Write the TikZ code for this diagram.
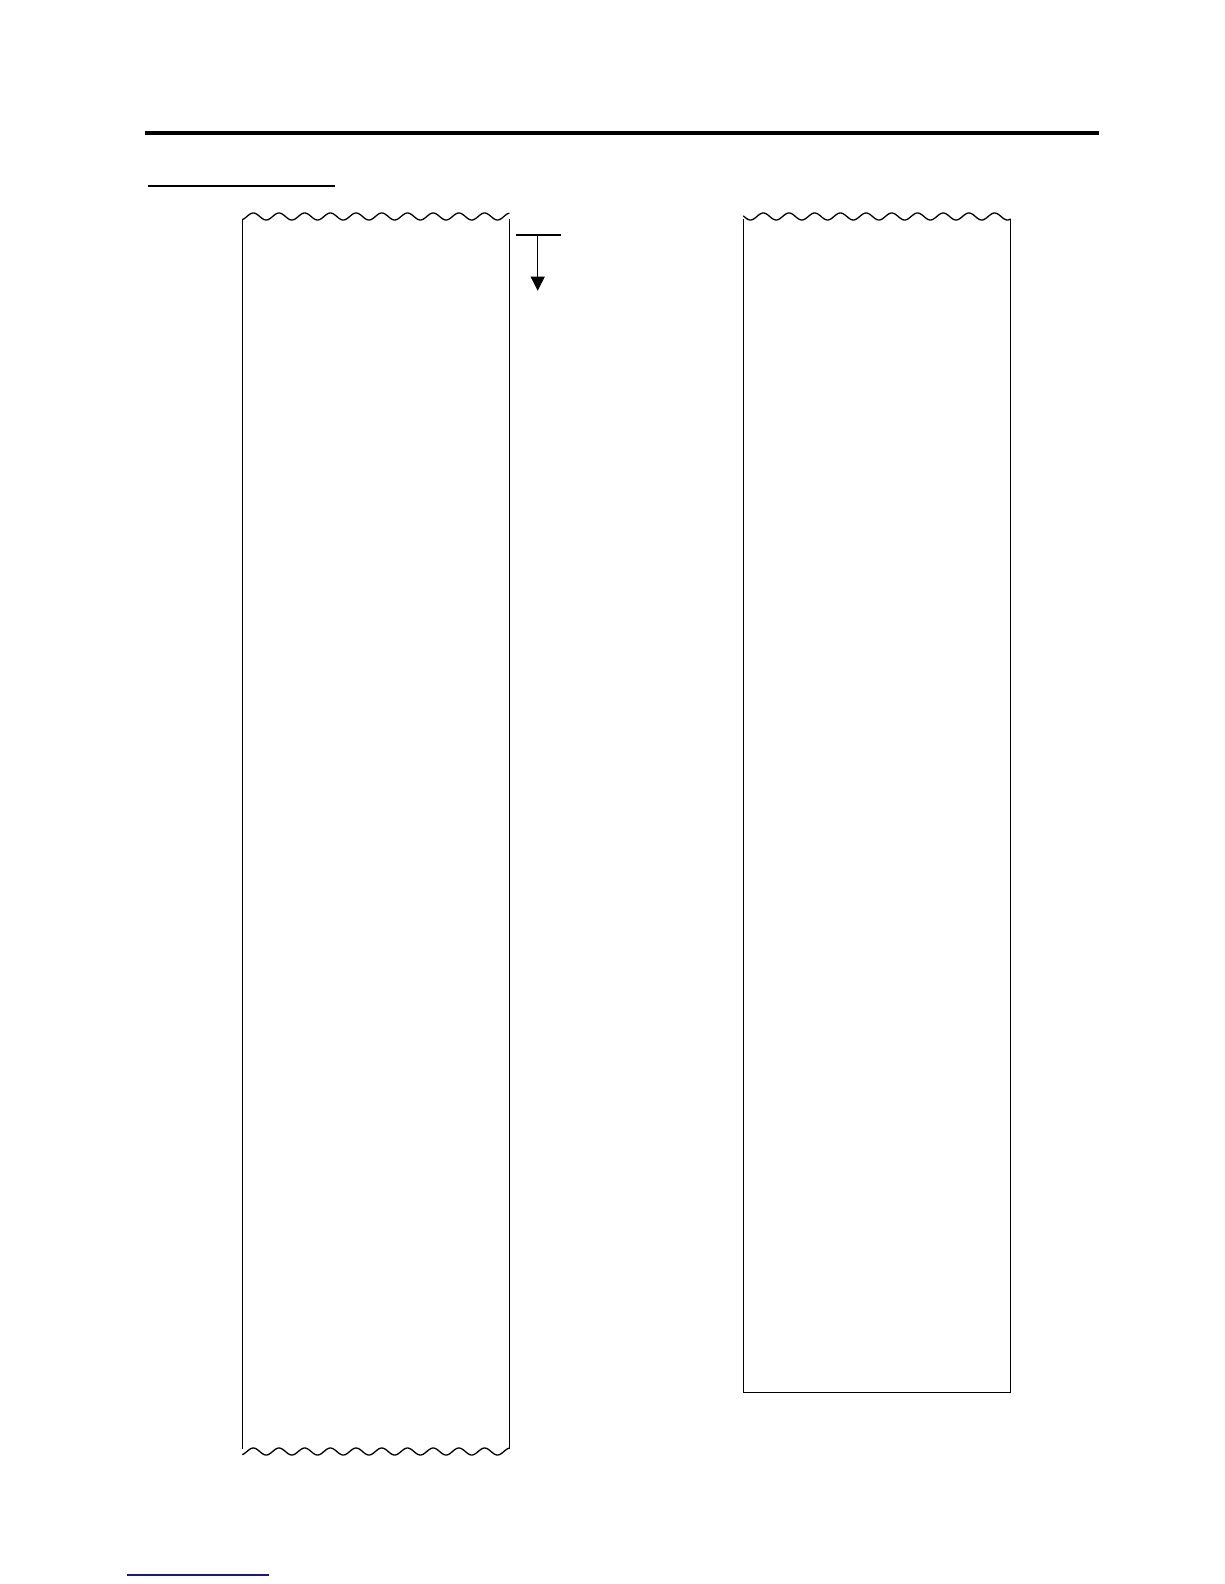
\documentclass[tikz,border=0pt]{standalone}
\usetikzlibrary{arrows.meta}
\definecolor{navyline}{RGB}{24,24,140}
\tikzset{
  stripline/.style={line width=1.3pt, line cap=butt},
  waveline/.style={line width=1.3pt},
  rule/.style={line width=4pt},
  headrule/.style={line width=2pt},
}
\begin{document}
\begin{tikzpicture}[x=1pt,y=-1pt]
\useasboundingbox[fill=white] (0,0) rectangle (1224,1584);
% top thick rule
\draw[rule] (145,132.7) -- (1099,132.7);
% heading underline
\draw[headrule] (148,186) -- (335,186);
% left paper strip
\draw[waveline] plot[domain=242.3:509.3, samples=240, smooth] (\x, {216.5 - 3.5*cos((\x-253.3)*14.0078)});
\draw[waveline] plot[domain=242.3:509.3, samples=240, smooth] (\x, {1451.5 - 3.5*cos((\x-253.3)*14.0078)});
\draw[stripline] (242.3,219) -- (242.3,1449);
\draw[stripline] (509.3,219) -- (509.3,1449);
% feed direction arrow
\coordinate (barL) at (516,234.7);
\coordinate (barR) at (560.7,234.7);
\coordinate (arrTop) at (537.7,234.7);
\coordinate (arrTip) at (537.7,290.7);
\draw[headrule] (barL) -- (barR);
\draw[line width=1pt, -{Triangle[width=14pt,length=14pt]}] (arrTop) -- (arrTip);
% right paper strip
\draw[waveline] plot[domain=743.3:1010.7, samples=240, smooth] (\x, {216.5 - 3.5*cos((\x-763.3)*14.0078)});
\draw[stripline, line join=miter] (743.3,219) -- (743.3,1392.7) -- (1010.7,1392.7) -- (1010.7,219);
% blue footer line
\draw[navyline, line width=1.6pt] (126.7,1574.7) -- (269,1574.7);
\end{tikzpicture}
\end{document}
